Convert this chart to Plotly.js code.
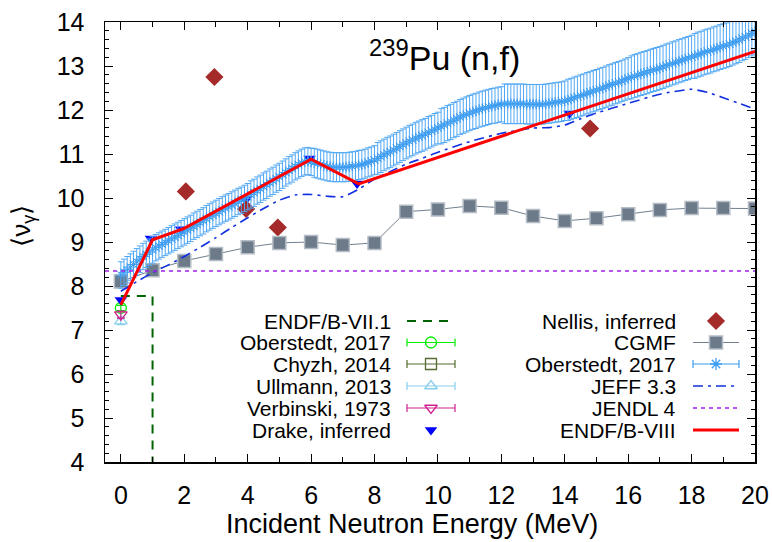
<!DOCTYPE html>
<html><head><meta charset="utf-8">
<script src="https://cdn.plot.ly/plotly-3.0.1.min.js"></script>
<style>html,body{margin:0;padding:0;background:#fff}#chart{width:772px;height:542px}</style>
</head><body><div id="chart"></div>
<script>
// ---------------- data ----------------
// ENDF/B-VII.1 (step)
const endf71E = [0, 1, 1];
const endf71V = [7.77, 7.77, 3.0];
// thermal-energy measurements
const thermE = [0];
const oberThV = [7.5];   const oberThErr = [0.06];
const chyzhV = [8.1];    const chyzhErr = [0.08];
const ullV = [7.2];      const ullErr = [0.08];
const verbV = [7.35];    const verbErr = [0.08];
// Drake, inferred
const drakeE = [0, 0.95, 1.9, 3.95, 5.95, 7.45, 14.15];
const drakeV = [7.68, 9.08, 9.29, 9.97, 10.9, 10.33, 11.92];
// Nellis, inferred
const nellisE = [2.05, 2.95, 3.95, 4.95, 14.8];
const nellisV = [10.15, 12.75, 9.75, 9.33, 11.58];
// CGMF
const cgmfE = [0,1,2,3,4,5,6,7,8,9,10,11,12,13,14,15,16,17,18,19,20];
const cgmfV = [8.1,8.36,8.57,8.73,8.88,8.98,9.0,8.93,8.98,9.69,9.74,9.82,9.78,9.59,9.48,9.54,9.63,9.73,9.77,9.77,9.76];
// Oberstedt 2017 (fast neutrons)
const oberE = [0,0.1,0.2,0.3,0.4,0.5,0.6,0.7,0.8,0.9,1,1.1,1.2,1.3,1.4,1.5,1.6,1.7,1.8,1.9,
  2,2.1,2.2,2.3,2.4,2.5,2.6,2.7,2.8,2.9,3,3.1,3.2,3.3,3.4,3.5,3.6,3.7,3.8,3.9,
  4,4.1,4.2,4.3,4.4,4.5,4.6,4.7,4.8,4.9,5,5.1,5.2,5.3,5.4,5.5,5.6,5.7,5.8,5.9,
  6,6.1,6.2,6.3,6.4,6.5,6.6,6.7,6.8,6.9,7,7.1,7.2,7.3,7.4,7.5,7.6,7.7,7.8,7.9,
  8,8.1,8.2,8.3,8.4,8.5,8.6,8.7,8.8,8.9,9,9.1,9.2,9.3,9.4,9.5,9.6,9.7,9.8,9.9,
  10,10.1,10.2,10.3,10.4,10.5,10.6,10.7,10.8,10.9,11,11.1,11.2,11.3,11.4,11.5,11.6,11.7,11.8,11.9,
  12,12.1,12.2,12.3,12.4,12.5,12.6,12.7,12.8,12.9,13,13.1,13.2,13.3,13.4,13.5,13.6,13.7,13.8,13.9,
  14,14.1,14.2,14.3,14.4,14.5,14.6,14.7,14.8,14.9,15,15.1,15.2,15.3,15.4,15.5,15.6,15.7,15.8,15.9,
  16,16.1,16.2,16.3,16.4,16.5,16.6,16.7,16.8,16.9,17,17.1,17.2,17.3,17.4,17.5,17.6,17.7,17.8,17.9,
  18,18.1,18.2,18.3,18.4,18.5,18.6,18.7,18.8,18.9,19,19.1,19.2,19.3,19.4,19.5,19.6,19.7,19.8,19.9,
  20];
const oberV = [8.25,8.31,8.37,8.43,8.49,8.55,8.61,8.67,8.72,8.77,8.82,8.87,8.91,8.95,8.99,9.03,9.07,9.11,9.15,9.19,
  9.23,9.27,9.31,9.36,9.40,9.44,9.48,9.53,9.57,9.61,9.65,9.69,9.73,9.77,9.80,9.84,9.88,9.92,9.95,9.99,
  10.03,10.08,10.12,10.17,10.21,10.26,10.30,10.35,10.39,10.44,10.48,10.53,10.58,10.63,10.67,10.72,10.76,10.80,10.83,10.84,
  10.82,10.80,10.78,10.76,10.74,10.72,10.71,10.70,10.70,10.70,10.70,10.70,10.71,10.72,10.73,10.75,10.76,10.78,10.81,10.83,
  10.86,10.90,10.94,10.98,11.02,11.05,11.09,11.13,11.17,11.21,11.25,11.29,11.32,11.36,11.39,11.42,11.45,11.49,11.52,11.56,
  11.59,11.63,11.66,11.70,11.73,11.77,11.80,11.84,11.87,11.90,11.93,11.96,11.98,12.01,12.03,12.05,12.07,12.09,12.10,12.12,
  12.13,12.14,12.14,12.14,12.14,12.14,12.14,12.14,12.13,12.13,12.13,12.13,12.13,12.13,12.14,12.15,12.16,12.17,12.18,12.19,
  12.21,12.23,12.25,12.28,12.30,12.33,12.35,12.38,12.40,12.43,12.45,12.48,12.50,12.53,12.56,12.58,12.61,12.63,12.66,12.69,
  12.72,12.74,12.77,12.79,12.82,12.84,12.86,12.89,12.91,12.93,12.95,12.98,13.01,13.03,13.06,13.08,13.11,13.13,13.16,13.18,
  13.21,13.23,13.26,13.28,13.31,13.33,13.35,13.38,13.40,13.43,13.45,13.47,13.50,13.53,13.56,13.59,13.63,13.66,13.70,13.74,
  13.78];
const oberErr = [0.30,0.30,0.30,0.30,0.30,0.30,0.30,0.30,0.30,0.30,0.30,0.30,0.30,0.30,0.30,0.30,0.30,0.30,0.30,0.30,
  0.30,0.30,0.30,0.30,0.30,0.30,0.30,0.30,0.30,0.30,0.30,0.30,0.30,0.30,0.30,0.30,0.30,0.30,0.30,0.30,
  0.30,0.31,0.31,0.31,0.31,0.31,0.31,0.31,0.31,0.31,0.31,0.31,0.31,0.31,0.31,0.31,0.31,0.31,0.31,0.31,
  0.31,0.33,0.33,0.33,0.33,0.33,0.33,0.33,0.33,0.33,0.33,0.33,0.33,0.33,0.33,0.33,0.33,0.33,0.33,0.33,
  0.33,0.36,0.36,0.36,0.36,0.36,0.36,0.36,0.36,0.36,0.36,0.36,0.36,0.36,0.36,0.36,0.36,0.36,0.36,0.36,
  0.36,0.40,0.40,0.40,0.40,0.40,0.40,0.40,0.40,0.40,0.40,0.40,0.40,0.40,0.40,0.40,0.40,0.40,0.40,0.40,
  0.40,0.45,0.45,0.45,0.45,0.45,0.45,0.45,0.45,0.45,0.45,0.45,0.45,0.45,0.45,0.45,0.45,0.45,0.45,0.45,
  0.45,0.47,0.47,0.47,0.47,0.47,0.47,0.47,0.47,0.47,0.47,0.47,0.47,0.47,0.47,0.47,0.47,0.47,0.47,0.47,
  0.47,0.49,0.49,0.49,0.49,0.49,0.49,0.49,0.49,0.49,0.49,0.49,0.49,0.49,0.49,0.49,0.49,0.49,0.49,0.49,
  0.49,0.51,0.51,0.51,0.51,0.51,0.51,0.51,0.51,0.51,0.51,0.51,0.51,0.51,0.51,0.51,0.51,0.51,0.51,0.51,
  0.51];
// JEFF 3.3
const jeffE = [0,0.5,1,1.5,2,2.5,3,3.5,4,4.5,5,5.5,6,6.5,7,7.5,8,8.5,9,9.5,10,11,12,13,13.5,14,14.5,15,16,17,18,18.5,19,19.5,20];
const jeffV = [7.88,8.1,8.3,8.48,8.67,8.88,9.1,9.33,9.55,9.76,9.95,10.07,10.08,10.04,10.03,10.2,10.43,10.6,10.77,10.9,11.04,11.28,11.47,11.59,11.6,11.66,11.8,11.93,12.15,12.36,12.47,12.4,12.28,12.15,12.02];
// JENDL 4
const jendlE = [-0.5, 20];
const jendlV = [8.34, 8.34];
// ENDF/B-VIII
const endf8E = [0, 1, 2, 6, 7.5, 20];
const endf8V = [7.57, 9.05, 9.31, 10.88, 10.32, 13.33];

// legend labels and texts
const leftLabels = ['ENDF/B-VII.1','Oberstedt, 2017','Chyzh, 2014','Ullmann, 2013','Verbinski, 1973','Drake, inferred'];
const rightLabels = ['Nellis, inferred','CGMF','Oberstedt, 2017','JEFF 3.3','JENDL 4','ENDF/B-VIII'];
const xTitle = 'Incident Neutron Energy (MeV)';
const yTitle = '⟨ν<sub>γ</sub>⟩';
const plotTitle = '<sup>239</sup>Pu (n,f)';

// ---------------- styles ----------------
const C = {
  endf71:'#006400', oberTh:'#00ee00', chyzh:'#556b2f', ull:'#87ceeb', verb:'#d02090',
  drake:'#0000ff', nellis:'#a52a2a', cgmf:'#708090', ober:'#3d9df2', jeff:'#1030e0',
  jendl:'#a020f0', endf8:'#ff0000'
};
const DASH71 = '9px,7px', DASHJEFF = '10px,5px,3px,5px', DASHJENDL = '4px,4px';

const traces = [];
traces.push({x:endf71E, y:endf71V, mode:'lines', line:{color:C.endf71, width:2, dash:DASH71}});
function thermal(v, e, col, sym){
  return {x:thermE, y:v, mode:'markers', marker:{symbol:sym, size:11, color:col, line:{color:col, width:1.3}},
    error_y:{type:'data', array:e, color:col, thickness:1.2, width:4}};
}
traces.push(thermal(oberThV, oberThErr, C.oberTh, 'circle-open'));
traces.push(thermal(chyzhV, chyzhErr, C.chyzh, 'square-open'));
traces.push(thermal(ullV, ullErr, C.ull, 'triangle-up-open'));
traces.push(thermal(verbV, verbErr, C.verb, 'triangle-down-open'));
traces.push({x:drakeE, y:drakeV, mode:'markers', marker:{symbol:'triangle-down', size:11, color:C.drake}});
traces.push({x:nellisE, y:nellisV, mode:'markers', marker:{symbol:'diamond', size:14, color:C.nellis}});
traces.push({x:cgmfE, y:cgmfV, mode:'lines+markers', line:{color:C.cgmf, width:1},
  marker:{symbol:'square', size:13, color:'#6c7a89', line:{color:'#b4bcc6', width:1.5}}});
traces.push({x:oberE, y:oberV, mode:'markers', marker:{symbol:'asterisk-open', size:9, color:C.ober, line:{color:C.ober, width:1}},
  error_y:{type:'data', array:oberErr, color:'#52a8f5', thickness:1, width:3}});
traces.push({x:jeffE, y:jeffV, mode:'lines', line:{color:C.jeff, width:1.6, dash:DASHJEFF, shape:'spline', smoothing:0.6}});
traces.push({x:jendlE, y:jendlV, mode:'lines', line:{color:C.jendl, width:1.6, dash:DASHJENDL}});
traces.push({x:endf8E, y:endf8V, mode:'lines', line:{color:C.endf8, width:3}});

// ---------- legend samples (drawn on a pixel-unit overlay axis) ----------
const rows = [321, 342.5, 364, 386, 408, 430];
const Lc = 431, Lh = 24, Rc = 716, Rh = 23;
const L = {xaxis:'x2', yaxis:'y2', hoverinfo:'skip'};
function lineSample(cx, h, y, col, w, dash){
  return Object.assign({x:[cx-h, cx+h], y:[y, y], mode:'lines', line:{color:col, width:w, dash:dash}}, L);
}
function errSample(cx, h, y, col, sym, size){
  return Object.assign({x:[cx], y:[y], mode:'markers', marker:{symbol:sym, size:size, color:col, line:{color:col, width:1.3}},
    error_x:{type:'data', array:[h], color:col, thickness:1.2, width:4}}, L);
}
traces.push(lineSample(Lc, Lh, rows[0], C.endf71, 2, DASH71));
traces.push(errSample(Lc, Lh, rows[1], C.oberTh, 'circle-open', 11));
traces.push(errSample(Lc, Lh, rows[2], C.chyzh, 'square-open', 11));
traces.push(errSample(Lc, Lh, rows[3], C.ull, 'triangle-up-open', 11));
traces.push(errSample(Lc, Lh, rows[4], C.verb, 'triangle-down-open', 11));
traces.push(Object.assign({x:[Lc], y:[rows[5]], mode:'markers', marker:{symbol:'triangle-down', size:11, color:C.drake}}, L));
traces.push(Object.assign({x:[Rc], y:[rows[0]], mode:'markers', marker:{symbol:'diamond', size:14, color:C.nellis}}, L));
traces.push(lineSample(Rc, Rh, rows[1], C.cgmf, 1));
traces.push(Object.assign({x:[Rc], y:[rows[1]], mode:'markers', marker:{symbol:'square', size:13, color:'#6c7a89', line:{color:'#b4bcc6', width:1.5}}}, L));
traces.push(errSample(Rc, Rh, rows[2], C.ober, 'asterisk-open', 10));
traces.push(lineSample(Rc, Rh, rows[3], C.jeff, 1.6, DASHJEFF));
traces.push(lineSample(Rc, Rh, rows[4], C.jendl, 1.6, DASHJENDL));
traces.push(lineSample(Rc, Rh, rows[5], C.endf8, 3));

const annotations = [];
leftLabels.forEach((t,i)=>annotations.push({xref:'x2', yref:'y2', x:393, y:rows[i], text:t, showarrow:false, xanchor:'right', yanchor:'middle', font:{size:21}}));
rightLabels.forEach((t,i)=>annotations.push({xref:'x2', yref:'y2', x:678, y:rows[i], text:t, showarrow:false, xanchor:'right', yanchor:'middle', font:{size:21}}));
annotations.push({xref:'x2', yref:'y2', x:444, y:55, text:plotTitle, showarrow:false, xanchor:'center', yanchor:'middle', font:{size:34}});
annotations.push({xref:'x2', yref:'paper', x:412, y:-0.141, text:xTitle, showarrow:false, xanchor:'center', yanchor:'middle', font:{size:27}});
annotations.push({xref:'paper', yref:'y2', x:-0.128, y:226, text:yTitle, textangle:-90, showarrow:false, xanchor:'center', yanchor:'middle', font:{size:26}});

const axCommon = {showline:true, linecolor:'#000', linewidth:1.5, mirror:'allticks', ticks:'inside', ticklen:8, tickwidth:1, tickcolor:'#000',
  showgrid:false, zeroline:false};
const layout = {
  width:772, height:542,
  margin:{l:105, r:17, t:22, b:80},
  paper_bgcolor:'#fff', plot_bgcolor:'#fff',
  font:{family:'"Liberation Sans", Arial, sans-serif', color:'#000', size:22},
  showlegend:false,
  xaxis:Object.assign({}, axCommon, {range:[-0.5,20], tick0:0, dtick:2, tickfont:{size:25}, ticklabelstandoff:10,
    minor:{dtick:1, tick0:0, ticks:'inside', ticklen:5, tickcolor:'#000', showgrid:false}}),
  yaxis:Object.assign({}, axCommon, {range:[4,14], tick0:4, dtick:1, tickfont:{size:25}, ticklabelstandoff:14,
    minor:{dtick:0.2, tick0:4, ticks:'inside', ticklen:4, tickcolor:'#000', showgrid:false}}),
  xaxis2:{overlaying:'x', anchor:'y2', range:[105,755], visible:false, fixedrange:true},
  yaxis2:{overlaying:'y', anchor:'x2', range:[462,22], visible:false, fixedrange:true},
  annotations:annotations
};
Plotly.newPlot('chart', traces, layout, {displayModeBar:false, staticPlot:true});
</script></body></html>
